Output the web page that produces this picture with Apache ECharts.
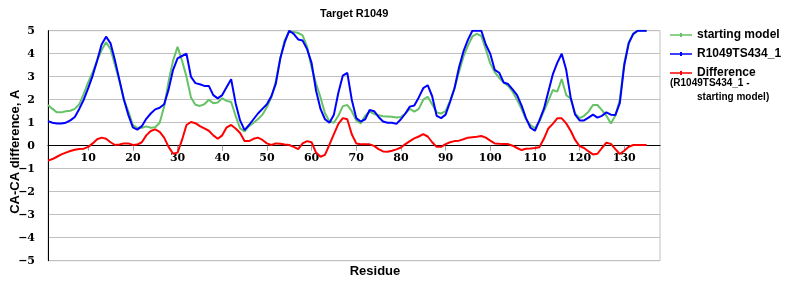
<!DOCTYPE html>
<html>
<head>
<meta charset="utf-8">
<script src="https://cdn.jsdelivr.net/npm/echarts@6/dist/echarts.min.js"></script>
<style>html,body{margin:0;padding:0;background:#fff}#c{width:800px;height:300px}</style>
</head>
<body>
<div id="c"></div>
<script>
const chartTitle = 'Target R1049';
const seriesNames = ['starting model', 'R1049TS434_1', 'Difference'];
const yTicks = [-5, -4, -3, -2, -1, 0, 1, 2, 3, 4, 5];
const residueCount = 138;
const residues = [];
for (let i = 1; i <= residueCount; i++) residues.push(String(i));

const startingModel = [
1.77,1.6,1.45,1.45,1.5,1.52,1.6,1.8,2.25,2.75,
3.2,3.7,4.16,4.5,4.2,3.5,2.8,2.0,1.48,0.9,
0.78,0.78,0.84,0.78,0.8,1.0,1.7,2.8,3.7,4.3,
3.7,3.0,2.1,1.78,1.73,1.8,2.0,1.85,1.88,2.06,
1.95,1.9,1.3,0.75,0.62,0.85,1.0,1.15,1.35,1.68,
2.1,2.8,3.8,4.6,4.95,4.95,4.9,4.8,4.3,3.4,
2.7,2.1,1.41,1.05,1.0,1.3,1.72,1.77,1.5,1.1,
0.97,1.3,1.48,1.38,1.32,1.28,1.27,1.26,1.23,1.25,
1.4,1.6,1.48,1.6,2.0,2.13,1.8,1.45,1.4,1.5,
1.95,2.5,3.2,3.87,4.35,4.75,4.86,4.77,4.2,3.58,
3.2,2.95,2.75,2.6,2.35,2.0,1.6,1.15,0.9,0.76,
1.05,1.5,1.95,2.42,2.35,2.9,2.2,2.05,1.4,1.2,
1.3,1.48,1.77,1.77,1.55,1.3,0.97,1.3,2.0,3.6,
4.5,4.85,5.0,5.0,5.0
];
const model434 = [
1.07,1.0,0.97,0.97,1.0,1.1,1.25,1.6,2.0,2.5,
3.05,3.7,4.4,4.74,4.45,3.7,2.85,2.0,1.33,0.8,
0.7,0.85,1.17,1.4,1.58,1.65,1.8,2.45,3.3,3.8,
3.9,4.0,3.0,2.72,2.67,2.6,2.6,2.2,2.06,2.2,
2.55,2.89,1.85,1.1,0.68,0.9,1.15,1.4,1.6,1.8,
2.15,2.7,3.8,4.5,5.0,4.86,4.62,4.57,4.2,3.6,
2.4,1.6,1.15,1.0,1.35,2.3,3.05,3.17,2.0,1.2,
1.05,1.15,1.55,1.5,1.25,1.05,1.0,1.0,0.95,1.15,
1.4,1.7,1.75,2.1,2.5,2.63,2.15,1.3,1.2,1.35,
1.9,2.5,3.4,4.1,4.6,5.0,5.0,5.0,4.4,4.0,
3.3,3.17,2.75,2.68,2.45,2.2,1.75,1.2,0.78,0.65,
1.1,1.6,2.35,3.1,3.6,4.0,3.3,2.1,1.35,1.1,
1.1,1.22,1.35,1.22,1.3,1.45,1.35,1.33,1.85,3.5,
4.45,4.86,5.0,5.0,5.0
];
const difference = [
-0.65,-0.58,-0.48,-0.38,-0.3,-0.23,-0.18,-0.14,-0.13,-0.05,
0.1,0.28,0.35,0.3,0.15,0.03,0.05,0.1,0.1,0.03,
0.05,0.15,0.45,0.64,0.71,0.6,0.35,-0.05,-0.35,-0.3,
0.25,0.9,1.03,0.98,0.85,0.75,0.65,0.45,0.3,0.45,
0.8,0.9,0.75,0.55,0.2,0.2,0.3,0.35,0.25,0.1,
0.03,0.1,0.08,0.05,0.03,-0.05,-0.15,0.1,0.2,0.15,
-0.3,-0.48,-0.4,0.05,0.5,0.95,1.2,1.15,0.5,0.1,
0.06,0.06,0.06,-0.01,-0.15,-0.25,-0.26,-0.22,-0.16,-0.08,
0.07,0.2,0.32,0.4,0.5,0.4,0.15,-0.05,-0.05,0.07,
0.15,0.2,0.22,0.28,0.35,0.37,0.39,0.42,0.35,0.22,
0.1,0.08,0.07,0.07,0.0,-0.1,-0.19,-0.13,-0.12,-0.1,
-0.07,0.3,0.75,0.95,1.19,1.19,0.97,0.65,0.25,-0.02,
-0.1,-0.25,-0.38,-0.35,-0.1,0.13,0.08,-0.15,-0.36,-0.22,
-0.05,0.03,0.03,0.03,0.03
];

const sansBold = {fontFamily: 'Liberation Sans, Arial, sans-serif', fontWeight: 'bold', color: '#000'};
const tickFont = {fontFamily: 'DejaVu Serif, serif', fontWeight: 'bold', color: '#000', fontSize: 11};
const legendIcon = 'path://M0 0h22v0.01h-22z M0 6.2h22v1.6h-22z M10 5h2v4h-2z M0 13.99h22v0.01h-22z';

const chart = echarts.init(document.getElementById('c'), null, {renderer: 'canvas'});
chart.setOption({
  animation: false,
  backgroundColor: '#fff',
  title: {
    text: chartTitle,
    left: 315, top: 3,
    textStyle: Object.assign({}, sansBold, {fontSize: 11})
  },
  legend: {
    orient: 'vertical',
    left: 670, top: 28,
    padding: 0,
    itemWidth: 22, itemHeight: 14, itemGap: 5,
    textStyle: Object.assign({}, sansBold, {fontSize: 12}),
    data: seriesNames.map(n => ({name: n, icon: legendIcon}))
  },
  graphic: [
    {type: 'text', left: 670, top: 78, style: {text: '(R1049TS434_1 -', font: 'bold 10px "Liberation Sans", Arial', fill: '#000'}},
    {type: 'text', left: 697, top: 92, style: {text: 'starting model)', font: 'bold 10px "Liberation Sans", Arial', fill: '#000'}}
  ],
  grid: {
    left: 48, right: 140, top: 30.7, bottom: 39.3,
    containLabel: false,
    outerBoundsMode: 'none',
    show: true, borderColor: '#c0c0c0', borderWidth: 1, backgroundColor: 'transparent'
  },
  xAxis: {
    type: 'category',
    data: residues,
    boundaryGap: false,
    position: 'bottom',
    offset: -115,
    name: 'Residue',
    nameLocation: 'middle',
    nameGap: 119,
    nameMoveOverlap: false,
    nameTextStyle: Object.assign({}, sansBold, {fontSize: 13, padding: [0, 0, 0, 42]}),
    axisLine: {onZero: false, lineStyle: {color: '#000', width: 1}},
    axisTick: {show: true, length: 5, lineStyle: {color: '#a0a0a0'}, interval: (i, v) => Number(v) % 10 === 0},
    axisLabel: Object.assign({}, tickFont, {margin: 7, interval: (i, v) => Number(v) % 10 === 0}),
    splitLine: {show: false}
  },
  yAxis: {
    type: 'value',
    min: -5, max: 5, interval: 1,
    name: 'CA-CA difference, A',
    nameLocation: 'middle',
    nameGap: 26,
    nameMoveOverlap: false,
    nameTextStyle: Object.assign({}, sansBold, {fontSize: 13, padding: [0, 12, 0, 0]}),
    axisLine: {show: true, lineStyle: {color: '#000', width: 1}},
    axisTick: {show: false},
    axisLabel: Object.assign({}, tickFont, {margin: 13, formatter: v => yTicks.includes(v) ? String(v).replace('-', '\u2212') : ''}),
    splitLine: {show: true, lineStyle: {color: '#c0c0c0', width: 1}}
  },
  series: [
    {name: seriesNames[0], type: 'line', data: startingModel, color: '#66c266', showSymbol: false, symbol: 'none', lineStyle: {width: 2, color: '#66c266'}, z: 2},
    {name: seriesNames[1], type: 'line', data: model434, color: '#0000ff', showSymbol: false, symbol: 'none', lineStyle: {width: 2, color: '#0000ff'}, z: 3},
    {name: seriesNames[2], type: 'line', data: difference, color: '#ff0000', showSymbol: false, symbol: 'none', lineStyle: {width: 2, color: '#ff0000'}, z: 4}
  ]
});
</script>
</body>
</html>
